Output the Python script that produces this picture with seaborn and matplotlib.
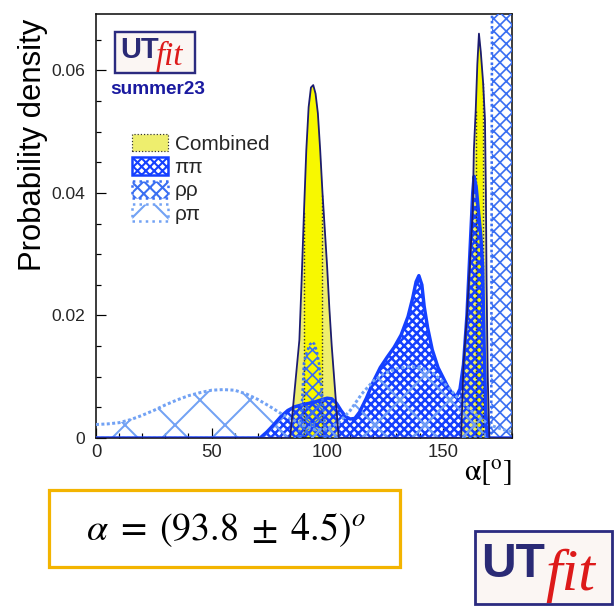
import numpy as np
import seaborn as sns
import matplotlib.pyplot as plt
from matplotlib.patches import Patch, Rectangle
from matplotlib.ticker import MultipleLocator

# ---------------------------------------------------------------- data
# alpha in degrees, probability density per degree
comb_x = [0, 84, 85, 86, 87, 88, 89, 90, 91, 92, 93, 94, 95, 96, 97, 98, 99,
          100, 101, 102, 103, 104, 105, 158, 159, 160.5, 162, 163, 163.5,
          164.3, 165, 165.7, 166.5, 167.5, 168.3, 168.7, 169, 169.5, 170.2, 180]
comb_y = [0, 0, 0.004, 0.008, 0.012, 0.016, 0.026, 0.037, 0.047, 0.054,
          0.0572, 0.0576, 0.0562, 0.053, 0.047, 0.040, 0.034, 0.028, 0.021,
          0.015, 0.010, 0.005, 0, 0, 0.012, 0.020, 0.030, 0.037, 0.047,
          0.0535, 0.061, 0.066, 0.063, 0.058, 0.052, 0.040, 0.025, 0.010, 0, 0]
# 68% probability intervals of the combined result
comb_core = [(90.0, 98.0), (164.3, 167.5)]

pipi_x = [0, 71, 74, 77, 80, 83, 86, 90, 94, 98, 100, 102, 104, 106, 108, 110,
          112, 114, 117, 120, 123, 126, 129, 132, 135, 137, 138.5, 139.7, 141,
          142, 143.5, 145.5, 148, 150, 152, 154, 156, 157.5, 159, 160.5, 162,
          163, 163.6, 164.5, 165.5, 166.5, 167.3, 168, 168.7, 169.5, 180]
pipi_y = [0, 0, 0.001, 0.0022, 0.0035, 0.0045, 0.0051, 0.0055, 0.0058, 0.0063,
          0.0065, 0.0064, 0.0057, 0.0045, 0.0035, 0.0031, 0.0032, 0.0042,
          0.0065, 0.0092, 0.0115, 0.0132, 0.0148, 0.0168, 0.0198, 0.0228,
          0.0255, 0.0265, 0.0250, 0.0215, 0.0180, 0.0144, 0.0115, 0.0100,
          0.0085, 0.0073, 0.0068, 0.0080, 0.0120, 0.0200, 0.0320, 0.0400,
          0.0427, 0.0410, 0.0370, 0.0330, 0.0280, 0.0140, 0.0040, 0, 0]

rhorho_x = [0, 87.5, 88.5, 89.3, 90, 91, 92.5, 93.6, 94.5, 95.5, 96.5, 97.9,
            98.8, 99.8, 171.0, 171.6, 180]
rhorho_y = [0, 0, 0.0025, 0.0067, 0.0122, 0.0138, 0.0152, 0.0157, 0.0153,
            0.0142, 0.0122, 0.0067, 0.0030, 0, 0, 0.12, 0.12]

rhopi_x = [0, 5, 10, 15, 20, 25, 30, 35, 40, 45, 50, 55, 60, 65, 70, 75, 80,
           85, 90, 95, 100, 105, 110, 115, 120, 125, 130, 135, 140, 145, 150,
           155, 160, 165, 170, 175, 180]
rhopi_y = [0.0022, 0.0023, 0.0025, 0.0030, 0.0037, 0.0045, 0.0054, 0.0062,
           0.0069, 0.0074, 0.0078, 0.0079, 0.0078, 0.0072, 0.0063, 0.0052,
           0.0040, 0.0030, 0.0020, 0.0013, 0.0015, 0.0025, 0.0045, 0.0072,
           0.0093, 0.0106, 0.0113, 0.0116, 0.0116, 0.0108, 0.0092, 0.0072,
           0.0052, 0.0036, 0.0022, 0.0015, 0.0010]

labels = ["Combined", "\u03c0\u03c0", "\u03c1\u03c1", "\u03c1\u03c0"]
x_ticks = [0, 50, 100, 150]
y_ticks = [0, 0.02, 0.04, 0.06]
y_tick_labels = ["0", "0.02", "0.04", "0.06"]
result_text = r"$\alpha\;=\;(93.8\;\pm\;4.5)^{o}$"

# ---------------------------------------------------------------- style
DPI = 150
W, H = 616, 606
PT = 72.0 / DPI          # points per pixel


def fx(px):
    return px / W


def fy(py):
    return 1 - py / H


YEL_LIGHT = "#eeee6e"
YEL_CORE = "#f8f800"
NAVY = "#1c1c70"
C_PIPI = "#1540ff"
C_RHORHO = "#3a6ff2"
C_RHOPI = "#72a2f4"

sns.set_theme(style="ticks")
plt.rcParams["font.family"] = ["Liberation Sans", "DejaVu Sans"]
plt.rcParams["mathtext.fontset"] = "stix"

fig = plt.figure(figsize=(W / DPI, H / DPI), dpi=DPI, facecolor="white")
ax = fig.add_axes([fx(96), fy(438), fx(512) - fx(96), fy(14) - fy(438)])
ax.set_facecolor("white")


def hatched(x, y, color, hatch, hlw, zorder):
    with plt.rc_context({"hatch.linewidth": hlw}):
        coll = ax.fill_between(x, y, 0, facecolor="none", edgecolor=color,
                               hatch=hatch, linewidth=0, zorder=zorder)
    if hasattr(coll, "set_hatch_linewidth"):
        coll.set_hatch_linewidth(hlw)
    return coll


# combined: light 95% area, saturated 68% core
cx = np.asarray(comb_x)
cy = np.asarray(comb_y)
ax.fill_between(cx, cy, 0, color=YEL_LIGHT, linewidth=0, zorder=1)
core_mask = np.zeros_like(cx, dtype=bool)
for lo, hi in comb_core:
    core_mask |= (cx >= lo) & (cx <= hi)
ax.fill_between(cx, cy, 0, where=core_mask, color=YEL_CORE, linewidth=0,
                zorder=1.1)
for lo, hi in comb_core:
    ax.vlines([lo, hi], 0, np.interp([lo, hi], cx, cy), colors="#333333",
              linestyles=(0, (1, 1.5)), linewidth=1.4 * PT, zorder=5)

# individual constraints
hatched(pipi_x, pipi_y, C_PIPI, "xxxxxx", 2.5 * PT, 2)
hatched(rhorho_x, rhorho_y, C_RHORHO, "xxxx", 1.7 * PT, 3)
hatched(rhopi_x, rhopi_y, C_RHOPI, "x", 2.0 * PT, 4)

sns.lineplot(x=pipi_x, y=pipi_y, ax=ax, color=C_PIPI, lw=3.4 * PT,
             sort=False, estimator=None, zorder=6)
sns.lineplot(x=rhorho_x, y=rhorho_y, ax=ax, color=C_RHORHO, lw=2.6 * PT,
             linestyle=(0, (1, 1)), sort=False, estimator=None, zorder=6)
sns.lineplot(x=rhopi_x, y=rhopi_y, ax=ax, color=C_RHOPI, lw=3.0 * PT,
             linestyle=(0, (1, 0.8)), sort=False, estimator=None, zorder=6)
sns.lineplot(x=comb_x, y=comb_y, ax=ax, color=NAVY, lw=1.8 * PT,
             sort=False, estimator=None, zorder=7)

# ---------------------------------------------------------------- axes
ax.set_xlim(0, 180)
ax.set_ylim(0, 0.0692)
ax.set_xlabel("")
ax.set_ylabel("")
ax.set_xticks(x_ticks)
ax.set_xticklabels([str(t) for t in x_ticks])
ax.set_yticks(y_ticks)
ax.set_yticklabels(y_tick_labels)
ax.xaxis.set_minor_locator(MultipleLocator(10))
ax.yaxis.set_minor_locator(MultipleLocator(0.005))
ax.tick_params(which="both", direction="in", width=1.2 * PT, color="black",
               top=False, right=False)
ax.tick_params(which="major", length=10 * PT)
ax.tick_params(which="minor", length=5 * PT)
ax.tick_params(axis="x", labelsize=18.5 * PT, pad=6 * PT)
ax.tick_params(axis="y", labelsize=17.5 * PT, pad=11 * PT)
for s in ax.spines.values():
    s.set_visible(True)
    s.set_color("#111111")
    s.set_linewidth(1.6 * PT)

fig.text(fx(33), fy(145), "Probability density", rotation=90, ha="center",
         va="center", fontsize=31 * PT, color="black")
fig.text(fx(512), fy(473), r"$\mathrm{\alpha[^{o}]}$", ha="right",
         va="center", fontsize=30 * PT, color="black")

# ---------------------------------------------------------------- legend
handles = [
    Patch(facecolor=YEL_LIGHT, edgecolor="#333333", linestyle=":",
          linewidth=1.2 * PT),
    Patch(facecolor="none", edgecolor=C_PIPI, hatch="xxxxxx",
          linewidth=2.5 * PT),
    Patch(facecolor="none", edgecolor=C_RHORHO, hatch="xxxx",
          linestyle=":", linewidth=2.5 * PT),
    Patch(facecolor="none", edgecolor=C_RHOPI, hatch="x",
          linestyle=":", linewidth=2.5 * PT),
]
leg = ax.legend(handles, labels, loc="upper left",
                bbox_to_anchor=(fx(132), fy(134)),
                bbox_transform=fig.transFigure, frameon=False,
                fontsize=20.8 * PT, handlelength=1.75, handleheight=0.9,
                handletextpad=0.3, labelspacing=0.17, borderpad=0,
                borderaxespad=0)


# ---------------------------------------------------------------- logos
def utfit_logo(x0, y0, x1, y1, ut_xy, ut_size, fit_xy, fit_size, lw):
    box = Rectangle((fx(x0), fy(y1)), fx(x1) - fx(x0), fy(y0) - fy(y1),
                    transform=fig.transFigure, facecolor="#fbf6f3",
                    edgecolor="#2b2b80", linewidth=lw, zorder=10)
    fig.add_artist(box)
    fig.text(fx(ut_xy[0]), fy(ut_xy[1]), "UT", ha="left", va="baseline",
             fontsize=ut_size, fontweight="bold", color="#2a2a75",
             family=["Liberation Sans"], zorder=11)
    fig.text(fx(fit_xy[0]), fy(fit_xy[1]), "fit", ha="left", va="baseline",
             fontsize=fit_size, style="italic", color="#dd1a1a",
             family=["Liberation Serif", "DejaVu Serif"], zorder=11)


utfit_logo(115, 32, 195, 73, (120, 58), 29 * PT, (156, 65), 33 * PT, 2.4 * PT)
fig.text(fx(110), fy(89), "summer23", ha="left", va="center",
         fontsize=19 * PT, fontweight="bold", color="#1a1aa0")
utfit_logo(475, 531, 612, 604, (481, 577), 48 * PT, (545, 590), 60 * PT,
           2.8 * PT)

# ---------------------------------------------------------------- result
fig.add_artist(Rectangle((fx(49), fy(567)), fx(400) - fx(49),
                         fy(490) - fy(567), transform=fig.transFigure,
                         facecolor="white", edgecolor="#f3b400",
                         linewidth=3.2 * PT))
fig.text(fx(226), fy(530), result_text, ha="center", va="center",
         fontsize=38 * PT, color="black")

fig.savefig("out.png", dpi=DPI, facecolor="white")
